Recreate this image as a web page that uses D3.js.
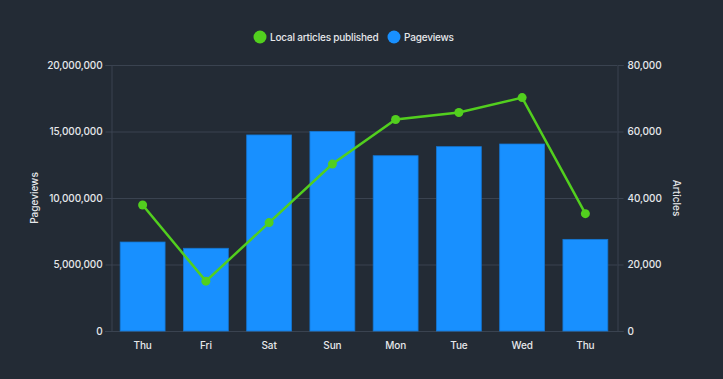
<!DOCTYPE html>
<html><head><meta charset="utf-8">
<script src="https://cdn.jsdelivr.net/npm/d3@7"></script>
<style>
html,body{margin:0;padding:0;background:#232b35;}
svg{display:block;font-family:Inter,"Noto Sans",sans-serif;}
</style></head>
<body><svg id="c" width="723" height="379"></svg>
<script>
const categories = ["Thu","Fri","Sat","Sun","Mon","Tue","Wed","Thu"];
const pageviews = [6690000,6220000,14740000,15010000,13180000,13860000,14060000,6890000];
const articles = [37900,15000,32600,50200,63600,65700,70200,35300];
const leftTicks = [0,5000000,10000000,15000000,20000000];
const rightTicks = [0,20000,40000,60000,80000];

const svg = d3.select("#c");
const W=723,H=379;
svg.append("rect").attr("width",W).attr("height",H).attr("fill","#232b35");
const m={l:111,r:617,t:65,b:331};
const idx = categories.map((d,i)=>i);
const x = d3.scaleBand().domain(idx).range([m.l,m.r]).paddingInner(0.29).paddingOuter(0.145);
const yL = d3.scaleLinear().domain([0,20000000]).range([m.b,m.t]);
const yR = d3.scaleLinear().domain([0,80000]).range([m.b,m.t]);
const fmt = d3.format(",");
const gridC="#3a4350", textC="#e6e8eb";
const FS="10px";
const green="#52cf1e", blue="#1890ff";

// grid
svg.append("g").selectAll("line").data(leftTicks.slice(1)).join("line")
  .attr("x1",m.l).attr("x2",m.r).attr("y1",d=>yL(d)+0.5).attr("y2",d=>yL(d)+0.5)
  .attr("stroke",gridC).attr("stroke-width",1);

// left axis
const gl = svg.append("g").attr("transform",`translate(${m.l+0.5},0)`)
  .call(d3.axisLeft(yL).tickValues(leftTicks).tickFormat(fmt).tickSize(6).tickPadding(3));
// right axis
const gr = svg.append("g").attr("transform",`translate(${m.r+0.5},0)`)
  .call(d3.axisRight(yR).tickValues(rightTicks).tickFormat(fmt).tickSize(6).tickPadding(4));
// bottom axis
const gb = svg.append("g").attr("transform",`translate(0,${m.b+0.5})`)
  .call(d3.axisBottom(x).tickFormat(i=>categories[i]).tickSize(0).tickPadding(10));
[gl,gr,gb].forEach(g=>{
  g.selectAll("path").attr("stroke",gridC);
  g.selectAll("line").attr("stroke",gridC);
  g.selectAll("text").attr("fill",textC).style("font-size",FS).style("font-weight","500").style("letter-spacing","-0.1px").style("font-family","Inter,'Noto Sans',sans-serif");
});
gb.select("path").attr("d",`M${m.l-6},0H${m.r+6}`);

// bars
svg.append("g").selectAll("rect").data(pageviews).join("rect")
  .attr("x",(d,i)=>x(i)).attr("width",x.bandwidth())
  .attr("y",d=>yL(d)).attr("height",d=>m.b-yL(d))
  .attr("fill",blue).attr("stroke","#1476d2").attr("stroke-width",0.8);

// line
const line = d3.line().x((d,i)=>x(i)+x.bandwidth()/2).y(d=>yR(d));
svg.append("path").datum(articles).attr("d",line).attr("fill","none")
  .attr("stroke",green).attr("stroke-width",2.5);
svg.append("g").selectAll("circle").data(articles).join("circle")
  .attr("cx",(d,i)=>x(i)+x.bandwidth()/2).attr("cy",d=>yR(d)).attr("r",4.5)
  .attr("fill",green);

// axis titles
svg.append("text").attr("transform",`translate(34,${(m.t+m.b)/2}) rotate(-90)`)
  .attr("text-anchor","middle").attr("dy","0.35em").attr("fill",textC).style("font-size",FS).style("font-weight","500").text("Pageviews");
svg.append("text").attr("transform",`translate(676,${(m.t+m.b)/2}) rotate(90)`)
  .attr("text-anchor","middle").attr("dy","0.35em").attr("fill",textC).style("font-size",FS).style("font-weight","500").text("Articles");

// legend
const leg = [{name:"Local articles published",c:green,x:260},{name:"Pageviews",c:blue,x:394}];
const lg = svg.append("g");
lg.selectAll("circle").data(leg).join("circle").attr("cx",d=>d.x).attr("cy",37).attr("r",6.5).attr("fill",d=>d.c);
lg.selectAll("text").data(leg).join("text").attr("x",d=>d.x+10).attr("y",37).attr("dy","0.35em")
  .attr("fill",textC).style("font-size",FS).style("font-weight","500").style("letter-spacing","-0.2px").text(d=>d.name);
</script></body></html>
